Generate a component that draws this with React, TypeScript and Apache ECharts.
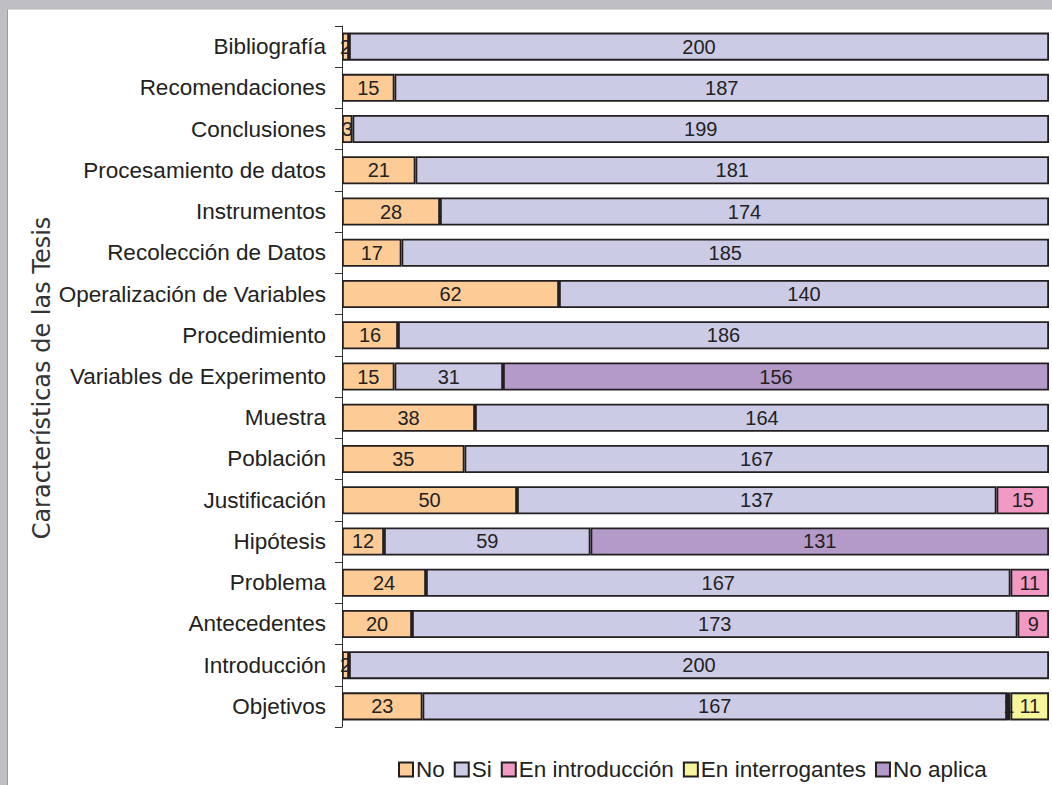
import React, { useEffect, useRef } from "react";
import * as echarts from "echarts";

const categories = [
  "Bibliografía",
  "Recomendaciones",
  "Conclusiones",
  "Procesamiento de datos",
  "Instrumentos",
  "Recolección de Datos",
  "Operalización de Variables",
  "Procedimiento",
  "Variables de Experimento",
  "Muestra",
  "Población",
  "Justificación",
  "Hipótesis",
  "Problema",
  "Antecedentes",
  "Introducción",
  "Objetivos",
];

const noValues = [2, 15, 3, 21, 28, 17, 62, 16, 15, 38, 35, 50, 12, 24, 20, 2, 23];
const siValues = [200, 187, 199, 181, 174, 185, 140, 186, 31, 164, 167, 137, 59, 167, 173, 200, 167];
const introValues = [null, null, null, null, null, null, null, null, null, null, null, 15, null, 11, 9, null, 1];
const interrogantesValues = [null, null, null, null, null, null, null, null, null, null, null, null, null, null, null, null, 11];
const noAplicaValues = [null, null, null, null, null, null, null, null, 156, null, null, null, 131, null, null, null, null];

const seriesNames = ["No", "Si", "En introducción", "En interrogantes", "No aplica"];
const seriesColors = ["#FCCB96", "#CCCBE6", "#F29AC3", "#F7F59B", "#B39AC8"];

const FONT = "'Liberation Sans', Arial, sans-serif";

export default function App() {
  const ref = useRef<HTMLDivElement>(null);

  useEffect(() => {
    if (!ref.current) return;
    const chart = echarts.init(ref.current, undefined, { renderer: "svg" });
    const data = [noValues, siValues, introValues, interrogantesValues, noAplicaValues];
    chart.setOption({
      animation: false,
      backgroundColor: "#ffffff",
      grid: { left: 334, right: 3, top: 16, height: 701, containLabel: false },
      xAxis: {
        type: "value",
        min: 0,
        max: 202,
        show: false,
      },
      yAxis: {
        type: "category",
        inverse: true,
        data: categories,
        axisLine: { show: true, lineStyle: { color: "#333", width: 1 } },
        axisTick: { show: true, length: 7, lineStyle: { color: "#333" } },
        axisLabel: { margin: 16, color: "#222", fontSize: 22.5, fontFamily: FONT },
        splitLine: { show: false },
      },
      legend: {
        left: 385,
        top: 743,
        itemWidth: 14,
        itemHeight: 14,
        itemGap: 9,
        icon: "rect",
        textStyle: { fontSize: 22.5, color: "#222", fontFamily: FONT, padding: [0, 0, 0, -2] },
        data: seriesNames,
      },
      graphic: [
        {
          type: "text",
          x: 34,
          y: 368,
          rotation: Math.PI / 2,
          style: {
            text: "Características de las Tesis",
            fontSize: 24,
            fontFamily: "'DejaVu Sans', Verdana, sans-serif",
            fill: "#333",
            align: "center",
            verticalAlign: "middle",
          },
        },
      ],
      series: seriesNames.map((name, i) => ({
        name,
        type: "bar",
        stack: "total",
        barCategoryGap: "32%",
        data: data[i],
        itemStyle: { color: seriesColors[i], borderColor: "#231F20", borderWidth: 1.8 },
        label: {
          show: true,
          position: "inside",
          color: "#222",
          fontSize: 20,
          fontFamily: FONT,
          formatter: (p: any) => (p.value == null ? "" : String(p.value)),
        },
      })),
    });
    return () => chart.dispose();
  }, []);

  return (
    <div
      style={{
        position: "fixed",
        left: 0,
        top: 0,
        width: 1052,
        height: 785,
        background: "#BFBFC3",
      }}
    >
      <div
        style={{
          position: "absolute",
          left: 7,
          top: 9,
          width: 1045,
          height: 776,
          borderLeft: "1px solid #9C9CA0",
          borderTop: "1px solid #D8D8DA",
          boxSizing: "border-box",
          background: "#ffffff",
        }}
      >
        <div ref={ref} style={{ width: 1044, height: 775 }} />
      </div>
    </div>
  );
}
